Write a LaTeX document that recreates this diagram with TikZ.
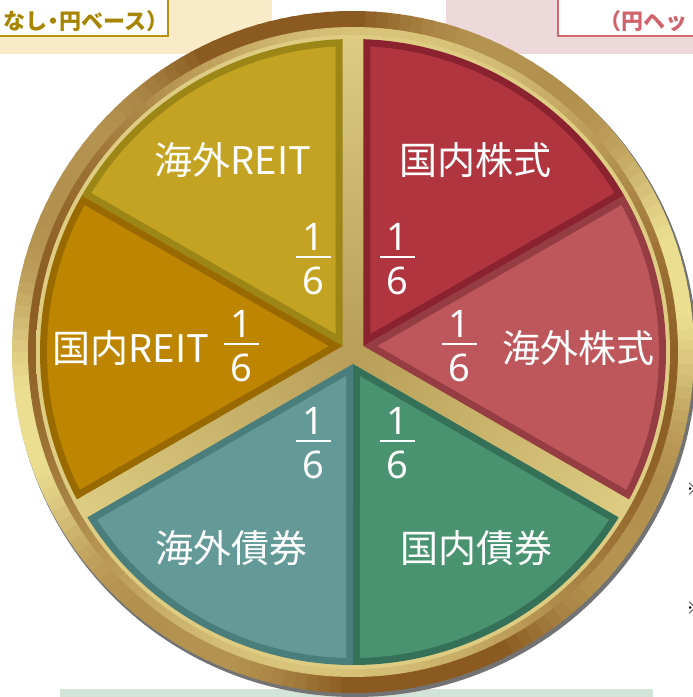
\documentclass[tikz,border=0pt]{standalone}
\usepackage{fontspec}
\setmainfont{Noto Sans}
\newfontfamily\jp{Noto Sans CJK JP}
\usetikzlibrary{calc}

\definecolor{beigebg}{HTML}{FAEBC8}
\definecolor{goldline}{HTML}{B8920A}
\definecolor{goldtext}{HTML}{A78500}
\definecolor{pinkbg}{HTML}{EDD8DA}
\definecolor{redline}{HTML}{D5666A}
\definecolor{redtext}{HTML}{D0636B}
\definecolor{mintbg}{HTML}{D2E3D8}
\definecolor{ringdark}{HTML}{8A5A20}
\definecolor{ringlight}{HTML}{ECDE90}
\definecolor{gapdark}{HTML}{B89E58}
\definecolor{gaplight}{HTML}{DDCC82}
\definecolor{kreitfill}{HTML}{C4A322}
\definecolor{kreitbev}{HTML}{9C8616}
\definecolor{dreitfill}{HTML}{BE8500}
\definecolor{dreitbev}{HTML}{986A00}
\definecolor{kbondfill}{HTML}{639A98}
\definecolor{kbondbev}{HTML}{4A7E7C}
\definecolor{dbondfill}{HTML}{4A9370}
\definecolor{dbondbev}{HTML}{357158}
\definecolor{dstockfill}{HTML}{B0353F}
\definecolor{dstockbev}{HTML}{8A2230}
\definecolor{kstockfill}{HTML}{BE575B}
\definecolor{kstockbev}{HTML}{963C43}

\tikzstyle{lbl}=[text=white, inner sep=0pt, font=\jp\fontsize{38}{40}\selectfont]
\tikzstyle{frac}=[text=white, inner sep=0pt, font=\fontsize{38}{40}\selectfont]
\tikzstyle{hdtxt}=[inner sep=0pt, font=\jp\bfseries\fontsize{22}{24}\selectfont]
\tikzstyle{note}=[inner sep=0pt, font=\jp\fontsize{17}{17}\selectfont]

% one sixth, bar 35pt wide
\newcommand{\sixth}{$\vcenter{\hbox to 35pt{\hss 1\hss}\kern6pt\hrule height 1.8pt\kern9pt\hbox to 35pt{\hss 6\hss}}$}
% slice of a pair: #1 pair angle, #2 side (1/-1), #3 inset, #4 colour
\newcommand{\pieslice}[4]{%
  \pgfmathsetmacro\slR{313-#3}%
  \pgfmathsetmacro\slA{#1+(#2)*asin(#3/\slR)}%
  \pgfmathsetmacro\slB{#1+(#2)*(60-asin((10.4+#3)/\slR))}%
  \pgfmathsetmacro\slM{#1+(#2)*30}%
  \pgfmathsetmacro\slD{2*#3}%
  \fill[#4] ($(C)+(#1:12)+(\slM:\slD)$) -- ($(C)+(\slA:\slR)$)
    arc[start angle=\slA, end angle=\slB, radius=\slR] -- cycle;}

\begin{document}
\begin{tikzpicture}[x=1pt,y=1pt]
\useasboundingbox (0,0) rectangle (693,697);
\coordinate (C) at (353,345);

% header boxes
\fill[beigebg] (0,643) rectangle (272,697);
\draw[goldline, line width=2pt, fill=white] (-2,661) rectangle (168,700);
\node (REITtxt) [hdtxt, text=goldtext, anchor=east] at (169,676) {なし\kern-5pt・\kern-5pt円ベース）};
\fill[pinkbg] (446,643) rectangle (693,697);
\draw[redline, line width=2pt, fill=white] (558,661) rectangle (696,700);
\node (HEDGEtxt) [hdtxt, text=redtext, anchor=west] at (599,676) {（円ヘッ};

\fill[mintbg] (60,0) rectangle (653,8);

% gold ring
\fill[black!55] ($(C)+(2,-3)$) circle (342);
\foreach \a in {0,2,...,358}{
  \pgfmathsetmacro\mo{max(0,min(100,42+45*(cos(2*(\a-12))+0.4*cos(6*(\a-12)))))}
  \pgfmathsetmacro\mi{max(0,min(100,42+38*cos(2*(\a-80))))}
  \fill[ringlight!\mo!ringdark] ($(C)+(\a:341)$) arc[start angle=\a, delta angle=2.5, radius=341]
    -- ($(C)+(\a+2.5:324)$) arc[start angle=\a+2.5, delta angle=-2.5, radius=324] -- cycle;
  \fill[ringlight!\mi!ringdark] ($(C)+(\a:325)$) arc[start angle=\a, delta angle=2.5, radius=325]
    -- ($(C)+(\a+2.5:316)$) arc[start angle=\a+2.5, delta angle=-2.5, radius=316] -- cycle;
}
\shade[inner color=gapdark, outer color=gaplight] (C) circle (317);

% slices
\pieslice{30}{-1}{0}{kstockbev}  \pieslice{30}{-1}{7}{kstockfill}
\pieslice{30}{1}{0}{dstockbev}   \pieslice{30}{1}{7}{dstockfill}
\pieslice{150}{-1}{0}{kreitbev}  \pieslice{150}{-1}{7}{kreitfill}
\pieslice{150}{1}{0}{dreitbev}   \pieslice{150}{1}{7}{dreitfill}
\pieslice{270}{-1}{0}{kbondbev}  \pieslice{270}{-1}{7}{kbondfill}
\pieslice{270}{1}{0}{dbondbev}   \pieslice{270}{1}{7}{dbondfill}

% labels
\node (KREITlbl) [lbl] at (233,537) {海外REIT};
\node (DSTOCKlbl) [lbl] at (475,537) {国内株式};
\node (DREITlbl) [lbl] at (131,349) {国内REIT};
\node (KSTOCKlbl) [lbl] at (578,349) {海外株式};
\node (KBONDlbl) [lbl] at (231,149) {海外債券};
\node (DBONDlbl) [lbl] at (476,149) {国内債券};

\node (KREITfrac) [frac] at (313.5,438) {\sixth};
\node (DSTOCKfrac) [frac] at (397.5,438) {\sixth};
\node (DREITfrac) [frac] at (241,351) {\sixth};
\node (KSTOCKfrac) [frac] at (459.5,351) {\sixth};
\node (KBONDfrac) [frac] at (313,254) {\sixth};
\node (DBONDfrac) [frac] at (397,254) {\sixth};

\node (mark1) [note] at (695,208) {※};
\node (mark2) [note] at (695,89) {※};
\end{tikzpicture}
\end{document}
